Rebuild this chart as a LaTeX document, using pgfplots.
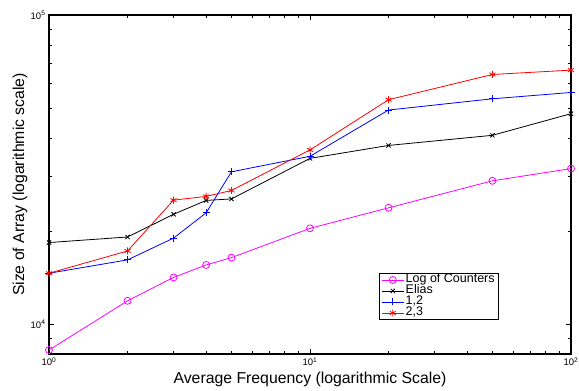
\documentclass[border=0pt]{standalone}
\usepackage{fontspec}
\setmainfont{Liberation Sans}
\usepackage{pgfplots}
\pgfplotsset{compat=1.18}
\definecolor{mag}{RGB}{255,0,255}
\definecolor{bl}{RGB}{0,0,255}
\definecolor{rd}{RGB}{255,0,0}
\begin{document}
\begin{tikzpicture}[x=1pt,y=1pt]
\useasboundingbox (-49,-37) rectangle (530,354);
\begin{axis}[
  at={(0,0)}, anchor=south west,
  scale only axis, width=522pt, height=339pt,
  xmode=log, ymode=log,
  xmin=1, xmax=100, ymin=8000, ymax=100000,
  xtick={1,10,100},
  xticklabels={10\textsuperscript{0},10\textsuperscript{1},10\textsuperscript{2}},
  ytick={10000,100000},
  yticklabels={10\textsuperscript{4},10\textsuperscript{5}},
  minor xtick={2,3,4,5,6,7,8,9,20,30,40,50,60,70,80,90},
  minor ytick={9000,20000,30000,40000,50000,60000,70000,80000,90000},
  tick align=inside,
  major tick length=5pt, minor tick length=3pt,
  tick style={line width=0.6pt, black},
  axis line style={line width=1.2pt},
  tick label style={font=\fontsize{9.5}{10}\selectfont},
  xlabel={Average Frequency (logarithmic Scale)},
  ylabel={Size of Array (logarithmic scale)},
  every axis x label/.style={at={(axis description cs:0.5,-0.0885)}, anchor=base, font=\fontsize{15.8}{17}\selectfont},
  every axis y label/.style={at={(axis description cs:-0.0556,0.5)}, rotate=90, anchor=center, font=\fontsize{15.8}{17}\selectfont},
  legend cell align=left,
  legend style={at={(rel axis cs:0.632,0.1003)}, anchor=south west,
    font=\fontsize{12.5}{12.5}\selectfont, draw=black, line width=1pt,
    inner xsep=2pt, inner ysep=1pt, row sep=0pt,
    nodes={inner ysep=0pt, inner xsep=1.5pt, text height=8.5pt, text depth=2.5pt}},
  legend image code/.code={\draw[mark repeat=2,mark phase=2,#1] plot coordinates {(0pt,0pt) (11pt,0pt) (22pt,0pt)};},
]
\addplot[mag, line width=0.8pt, mark=o, mark size=3.5pt] coordinates {
 (1,8240) (2,11890) (3,14150) (4,15530) (5,16400) (10,20400) (20,23770) (50,29070) (100,31840)};
\addlegendentry{Log of Counters}
\addplot[black, line width=0.8pt, mark=x, mark size=3pt] coordinates {
 (1,18350) (2,19130) (3,22650) (4,25120) (5,25400) (10,34360) (20,37840) (50,40800) (100,47930)};
\addlegendentry{Elias}
\addplot[bl, line width=0.8pt, mark=+, mark size=3.5pt] coordinates {
 (1,14600) (2,16130) (3,18970) (4,22900) (5,31090) (10,34900) (20,49260) (50,53560) (100,56140)};
\addlegendentry{1,2}
\addplot[rd, line width=0.8pt, mark=asterisk, mark size=3.5pt] coordinates {
 (1,14600) (2,17240) (3,25170) (4,25880) (5,27050) (10,36600) (20,53200) (50,64200) (100,66310)};
\addlegendentry{2,3}
\end{axis}
\end{tikzpicture}
\end{document}
